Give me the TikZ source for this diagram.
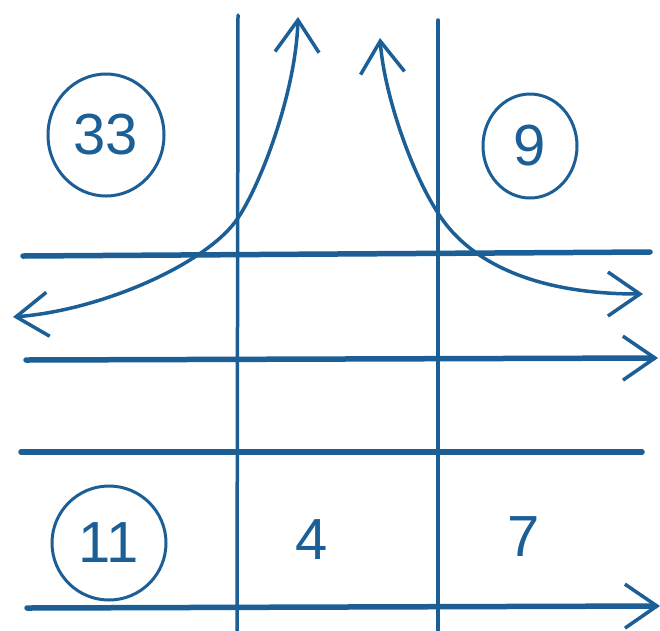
\documentclass[tikz,border=0pt]{standalone}
\usepackage{fontspec}
\setmainfont{Liberation Sans}
\usetikzlibrary{arrows.meta,shapes.geometric}
\definecolor{ink}{RGB}{28,94,150}
\tikzset{
  gridline/.style={draw=ink, line width=5.5pt, line cap=round},
  vline/.style={draw=ink, line width=3.5pt, line cap=round},
  curveline/.style={draw=ink, line width=3.5pt, line cap=round},
  tip/.tip={Straight Barb[length=32pt,width=44pt,line width=3.5pt]},
  barb/.style={-tip},
  ringed/.style={draw=ink, line width=3pt, ellipse, inner sep=0pt, text=ink, font=\fontsize{58}{58}\selectfont},
  plain/.style={text=ink, inner sep=0pt, font=\fontsize{58}{58}\selectfont}
}
\begin{document}
\begin{tikzpicture}[x=1pt,y=-1pt]
\useasboundingbox (0,0) rectangle (660,630);
% end points
\coordinate (v1t) at (238,15);  \coordinate (v1b) at (237,634);
\coordinate (v2t) at (438,20);  \coordinate (v2b) at (438,634);
\coordinate (h1l) at (23,256);  \coordinate (h1r) at (650,252);
\coordinate (h2l) at (26,360);  \coordinate (h2r) at (658,358);
\coordinate (h3l) at (21,452);  \coordinate (h3r) at (642,452);
\coordinate (h4l) at (27,608);  \coordinate (h4r) at (660,606);
\coordinate (la) at (13,317);   \coordinate (lb) at (238,218);  \coordinate (lc) at (298,17);
\coordinate (ra) at (380,38);   \coordinate (rb) at (438,213);  \coordinate (rc) at (643,294);
% grid
\draw[vline] (v1t) -- (v1b);
\draw[vline] (v2t) -- (v2b);
\draw[gridline] (h1l) -- (h1r);
\draw[gridline, barb] (h2l) -- (h2r);
\draw[gridline] (h3l) -- (h3r);
\draw[gridline, barb] (h4l) -- (h4r);
% curves
\draw[curveline, tip-tip] (la) .. controls (103,310) and (208,263) .. (lb)
  .. controls (262,182) and (296,90) .. (lc);
\draw[curveline, tip-tip] (ra) .. controls (384,93) and (411,172) .. (rb)
  .. controls (463,253) and (520,294) .. (rc);
% labels
\node[ringed, minimum width=116pt, minimum height=122pt] (c33) at (106,135) {33};
\node[ringed, minimum width=94pt, minimum height=104pt] (c9) at (530,146) {9};
\node[ringed, minimum width=114pt, minimum height=114pt] (c11) at (109,543) {11};
\node[plain] (n4) at (312,540) {4};
\node[plain] (n7) at (524,537) {7};
\end{tikzpicture}
\end{document}
